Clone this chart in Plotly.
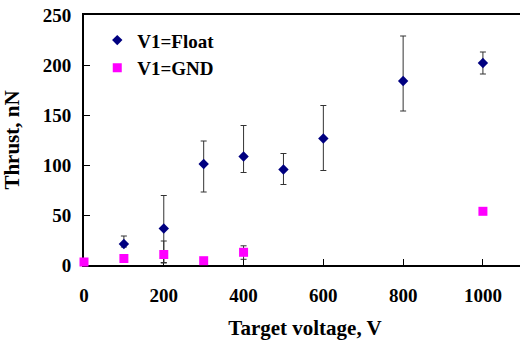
import plotly.graph_objects as go

# Data
float_x = [100, 200, 300, 400, 500, 600, 800, 1000]
float_y = [21, 36.5, 101, 108.5, 95.5, 126.5, 184, 202]
float_err_plus = [8, 33, 23, 31, 16, 33, 45, 11]
float_err_minus = [3, 34, 28, 16, 15, 32, 30, 11]

gnd_x = [0, 100, 200, 300, 400, 1000]
gnd_y = [3, 6.5, 10.5, 4.3, 12.7, 53.7]
gnd_err_plus = [0, 0, 13.5, 0, 6.5, 0]
gnd_err_minus = [0, 0, 8.5, 0, 7, 0]

x_ticks = [0, 200, 400, 600, 800, 1000]
y_ticks = [0, 50, 100, 150, 200, 250]

font_fam = "Liberation Serif"

fig = go.Figure()
fig.add_trace(go.Scatter(
    x=float_x, y=float_y, mode="markers", name="V1=Float",
    marker=dict(symbol="diamond", size=8, color="#000080"),
    error_y=dict(type="data", symmetric=False, array=float_err_plus,
                 arrayminus=float_err_minus, color="#333333", thickness=1, width=3),
    cliponaxis=False,
))
fig.add_trace(go.Scatter(
    x=gnd_x, y=gnd_y, mode="markers", name="V1=GND",
    marker=dict(symbol="square", size=9, color="#FF00FF"),
    error_y=dict(type="data", symmetric=False, array=gnd_err_plus,
                 arrayminus=gnd_err_minus, color="#333333", thickness=1, width=3),
    cliponaxis=False,
))

fig.update_layout(
    width=526, height=345,
    margin=dict(l=84, r=0, t=15, b=80, autoexpand=False),
    paper_bgcolor="white", plot_bgcolor="white",
    font=dict(family=font_fam, size=19, color="black", weight="bold"),
    showlegend=True,
    legend=dict(x=0.03, y=0.975, xanchor="left", yanchor="top",
                font=dict(family=font_fam, size=19, color="black", weight="bold"),
                bgcolor="rgba(0,0,0,0)", itemwidth=30, tracegroupgap=2),
    xaxis=dict(
        range=[0, 1108], tickvals=x_ticks, ticks="inside", ticklen=6,
        tickcolor="black", tickwidth=1, showline=True, linecolor="black",
        linewidth=2, mirror=True, showgrid=False, zeroline=False,
        layer="below traces", automargin=False, ticklabelstandoff=12,
        ticklabeloverflow="allow",
        title=dict(text="Target voltage, V", standoff=16,
                   font=dict(family=font_fam, size=21, weight="bold")),
        tickfont=dict(family=font_fam, size=19, weight="bold"),
    ),
    yaxis=dict(
        range=[0, 250], tickvals=y_ticks, ticks="inside", ticklen=6,
        tickcolor="black", tickwidth=1, showline=True, linecolor="black",
        linewidth=2, showgrid=False, zeroline=False, layer="below traces",
        automargin=False, ticklabelstandoff=7, ticklabeloverflow="allow",
        title=dict(text="Thrust, nN", standoff=18,
                   font=dict(family=font_fam, size=21, weight="bold")),
        tickfont=dict(family=font_fam, size=19, weight="bold"),
    ),
)

fig.write_html("out.html", config={"displayModeBar": False},
               post_script="document.body.style.margin='0';document.body.style.overflow='hidden';")
